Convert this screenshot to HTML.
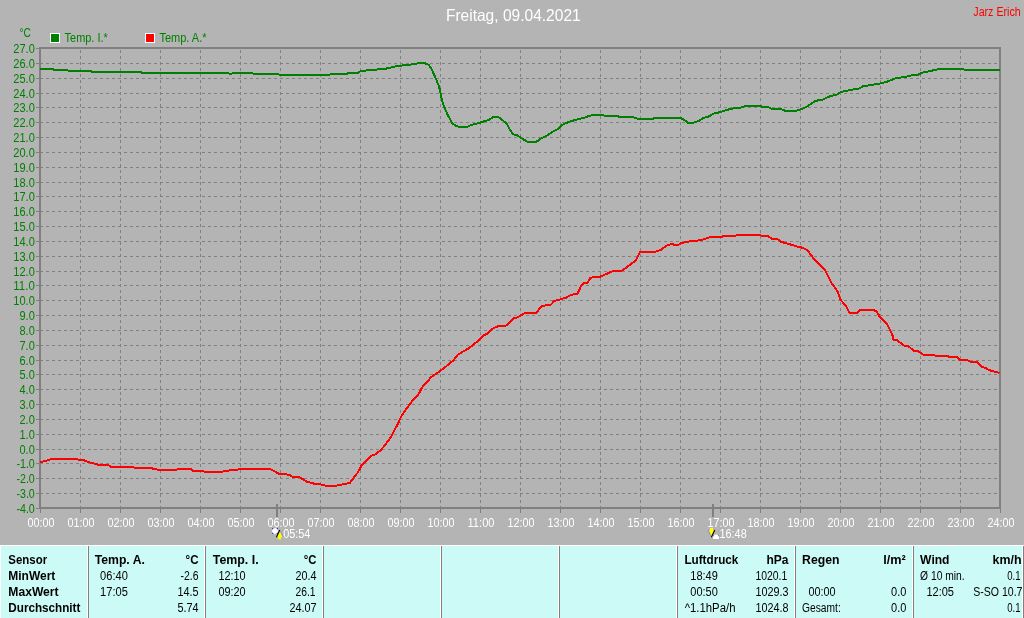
<!DOCTYPE html>
<html lang="de"><head><meta charset="utf-8"><title>Freitag, 09.04.2021</title>
<style>html,body{margin:0;padding:0;background:#b4b4b4;overflow:hidden}svg{display:block}text{font-family:"Liberation Sans",sans-serif;font-size:12px}.b{font-weight:bold}</style>
</head><body>
<svg width="1024" height="618" viewBox="0 0 1024 618">
<rect x="0" y="0" width="1024" height="618" fill="#b4b4b4"/>
<g stroke="#808080" stroke-width="1" shape-rendering="crispEdges" fill="none">
<line x1="40" x2="999" y1="493.5" y2="493.5" stroke-dasharray="3 3"/>
<line x1="40" x2="999" y1="478.5" y2="478.5" stroke-dasharray="3 3"/>
<line x1="40" x2="999" y1="463.5" y2="463.5" stroke-dasharray="3 3"/>
<line x1="40" x2="999" y1="449.5" y2="449.5" stroke-dasharray="3 3"/>
<line x1="40" x2="999" y1="434.5" y2="434.5" stroke-dasharray="3 3"/>
<line x1="40" x2="999" y1="419.5" y2="419.5" stroke-dasharray="3 3"/>
<line x1="40" x2="999" y1="404.5" y2="404.5" stroke-dasharray="3 3"/>
<line x1="40" x2="999" y1="389.5" y2="389.5" stroke-dasharray="3 3"/>
<line x1="40" x2="999" y1="374.5" y2="374.5" stroke-dasharray="3 3"/>
<line x1="40" x2="999" y1="360.5" y2="360.5" stroke-dasharray="3 3"/>
<line x1="40" x2="999" y1="345.5" y2="345.5" stroke-dasharray="3 3"/>
<line x1="40" x2="999" y1="330.5" y2="330.5" stroke-dasharray="3 3"/>
<line x1="40" x2="999" y1="315.5" y2="315.5" stroke-dasharray="3 3"/>
<line x1="40" x2="999" y1="300.5" y2="300.5" stroke-dasharray="3 3"/>
<line x1="40" x2="999" y1="285.5" y2="285.5" stroke-dasharray="3 3"/>
<line x1="40" x2="999" y1="271.5" y2="271.5" stroke-dasharray="3 3"/>
<line x1="40" x2="999" y1="256.5" y2="256.5" stroke-dasharray="3 3"/>
<line x1="40" x2="999" y1="241.5" y2="241.5" stroke-dasharray="3 3"/>
<line x1="40" x2="999" y1="226.5" y2="226.5" stroke-dasharray="3 3"/>
<line x1="40" x2="999" y1="211.5" y2="211.5" stroke-dasharray="3 3"/>
<line x1="40" x2="999" y1="196.5" y2="196.5" stroke-dasharray="3 3"/>
<line x1="40" x2="999" y1="182.5" y2="182.5" stroke-dasharray="3 3"/>
<line x1="40" x2="999" y1="167.5" y2="167.5" stroke-dasharray="3 3"/>
<line x1="40" x2="999" y1="152.5" y2="152.5" stroke-dasharray="3 3"/>
<line x1="40" x2="999" y1="137.5" y2="137.5" stroke-dasharray="3 3"/>
<line x1="40" x2="999" y1="122.5" y2="122.5" stroke-dasharray="3 3"/>
<line x1="40" x2="999" y1="107.5" y2="107.5" stroke-dasharray="3 3"/>
<line x1="40" x2="999" y1="93.5" y2="93.5" stroke-dasharray="3 3"/>
<line x1="40" x2="999" y1="78.5" y2="78.5" stroke-dasharray="3 3"/>
<line x1="40" x2="999" y1="63.5" y2="63.5" stroke-dasharray="3 3"/>
<line x1="80.5" x2="80.5" y1="50" y2="507" stroke-dasharray="3 3"/>
<line x1="120.5" x2="120.5" y1="50" y2="507" stroke-dasharray="3 3"/>
<line x1="160.5" x2="160.5" y1="50" y2="507" stroke-dasharray="3 3"/>
<line x1="200.5" x2="200.5" y1="50" y2="507" stroke-dasharray="3 3"/>
<line x1="240.5" x2="240.5" y1="50" y2="507" stroke-dasharray="3 3"/>
<line x1="280.5" x2="280.5" y1="50" y2="507" stroke-dasharray="3 3"/>
<line x1="320.5" x2="320.5" y1="50" y2="507" stroke-dasharray="3 3"/>
<line x1="360.5" x2="360.5" y1="50" y2="507" stroke-dasharray="3 3"/>
<line x1="400.5" x2="400.5" y1="50" y2="507" stroke-dasharray="3 3"/>
<line x1="440.5" x2="440.5" y1="50" y2="507" stroke-dasharray="3 3"/>
<line x1="480.5" x2="480.5" y1="50" y2="507" stroke-dasharray="3 3"/>
<line x1="520.5" x2="520.5" y1="50" y2="507" stroke-dasharray="3 3"/>
<line x1="560.5" x2="560.5" y1="50" y2="507" stroke-dasharray="3 3"/>
<line x1="600.5" x2="600.5" y1="50" y2="507" stroke-dasharray="3 3"/>
<line x1="640.5" x2="640.5" y1="50" y2="507" stroke-dasharray="3 3"/>
<line x1="680.5" x2="680.5" y1="50" y2="507" stroke-dasharray="3 3"/>
<line x1="720.5" x2="720.5" y1="50" y2="507" stroke-dasharray="3 3"/>
<line x1="760.5" x2="760.5" y1="50" y2="507" stroke-dasharray="3 3"/>
<line x1="800.5" x2="800.5" y1="50" y2="507" stroke-dasharray="3 3"/>
<line x1="840.5" x2="840.5" y1="50" y2="507" stroke-dasharray="3 3"/>
<line x1="880.5" x2="880.5" y1="50" y2="507" stroke-dasharray="3 3"/>
<line x1="920.5" x2="920.5" y1="50" y2="507" stroke-dasharray="3 3"/>
<line x1="960.5" x2="960.5" y1="50" y2="507" stroke-dasharray="3 3"/>
<line x1="36" x2="39" y1="508.5" y2="508.5"/>
<line x1="36" x2="39" y1="493.5" y2="493.5"/>
<line x1="36" x2="39" y1="478.5" y2="478.5"/>
<line x1="36" x2="39" y1="463.5" y2="463.5"/>
<line x1="36" x2="39" y1="449.5" y2="449.5"/>
<line x1="36" x2="39" y1="434.5" y2="434.5"/>
<line x1="36" x2="39" y1="419.5" y2="419.5"/>
<line x1="36" x2="39" y1="404.5" y2="404.5"/>
<line x1="36" x2="39" y1="389.5" y2="389.5"/>
<line x1="36" x2="39" y1="374.5" y2="374.5"/>
<line x1="36" x2="39" y1="360.5" y2="360.5"/>
<line x1="36" x2="39" y1="345.5" y2="345.5"/>
<line x1="36" x2="39" y1="330.5" y2="330.5"/>
<line x1="36" x2="39" y1="315.5" y2="315.5"/>
<line x1="36" x2="39" y1="300.5" y2="300.5"/>
<line x1="36" x2="39" y1="285.5" y2="285.5"/>
<line x1="36" x2="39" y1="271.5" y2="271.5"/>
<line x1="36" x2="39" y1="256.5" y2="256.5"/>
<line x1="36" x2="39" y1="241.5" y2="241.5"/>
<line x1="36" x2="39" y1="226.5" y2="226.5"/>
<line x1="36" x2="39" y1="211.5" y2="211.5"/>
<line x1="36" x2="39" y1="196.5" y2="196.5"/>
<line x1="36" x2="39" y1="182.5" y2="182.5"/>
<line x1="36" x2="39" y1="167.5" y2="167.5"/>
<line x1="36" x2="39" y1="152.5" y2="152.5"/>
<line x1="36" x2="39" y1="137.5" y2="137.5"/>
<line x1="36" x2="39" y1="122.5" y2="122.5"/>
<line x1="36" x2="39" y1="107.5" y2="107.5"/>
<line x1="36" x2="39" y1="93.5" y2="93.5"/>
<line x1="36" x2="39" y1="78.5" y2="78.5"/>
<line x1="36" x2="39" y1="63.5" y2="63.5"/>
<line x1="36" x2="39" y1="48.5" y2="48.5"/>
<line x1="40.5" x2="40.5" y1="509" y2="513"/>
<line x1="80.5" x2="80.5" y1="509" y2="513"/>
<line x1="120.5" x2="120.5" y1="509" y2="513"/>
<line x1="160.5" x2="160.5" y1="509" y2="513"/>
<line x1="200.5" x2="200.5" y1="509" y2="513"/>
<line x1="240.5" x2="240.5" y1="509" y2="513"/>
<line x1="280.5" x2="280.5" y1="509" y2="513"/>
<line x1="320.5" x2="320.5" y1="509" y2="513"/>
<line x1="360.5" x2="360.5" y1="509" y2="513"/>
<line x1="400.5" x2="400.5" y1="509" y2="513"/>
<line x1="440.5" x2="440.5" y1="509" y2="513"/>
<line x1="480.5" x2="480.5" y1="509" y2="513"/>
<line x1="520.5" x2="520.5" y1="509" y2="513"/>
<line x1="560.5" x2="560.5" y1="509" y2="513"/>
<line x1="600.5" x2="600.5" y1="509" y2="513"/>
<line x1="640.5" x2="640.5" y1="509" y2="513"/>
<line x1="680.5" x2="680.5" y1="509" y2="513"/>
<line x1="720.5" x2="720.5" y1="509" y2="513"/>
<line x1="760.5" x2="760.5" y1="509" y2="513"/>
<line x1="800.5" x2="800.5" y1="509" y2="513"/>
<line x1="840.5" x2="840.5" y1="509" y2="513"/>
<line x1="880.5" x2="880.5" y1="509" y2="513"/>
<line x1="920.5" x2="920.5" y1="509" y2="513"/>
<line x1="960.5" x2="960.5" y1="509" y2="513"/>
<line x1="1000.5" x2="1000.5" y1="509" y2="513"/>
</g>
<rect x="40" y="48" width="960" height="460" fill="none" stroke="#808080" stroke-width="2" shape-rendering="crispEdges"/>
<rect x="276" y="504" width="2" height="13" fill="#808080"/>
<rect x="712" y="504" width="2" height="13" fill="#808080"/>
<polyline fill="none" stroke="#008000" stroke-width="2" stroke-linejoin="round" shape-rendering="crispEdges" points="40.0,69.2 52.5,69.2 55.0,70.0 67.5,70.5 90.0,71.0 92.5,71.8 140.0,72.0 142.5,72.8 225.0,72.8 229.0,73.5 232.0,73.5 235.0,72.8 250.0,72.8 252.5,73.5 277.5,74.0 280.0,75.0 328.8,75.0 331.8,74.0 346.4,73.8 349.3,73.0 358.1,72.7 361.0,70.9 373.8,69.9 387.4,68.4 393.3,66.8 401.0,65.6 412.8,64.3 418.7,63.1 424.5,63.1 428.4,64.6 431.4,68.6 436.2,79.3 439.2,87.1 442.1,100.8 444.0,106.6 448.0,115.4 451.9,122.7 454.8,125.2 458.7,126.8 467.5,126.8 471.4,124.9 479.8,122.7 488.6,119.9 493.4,117.0 498.3,117.0 502.2,119.9 507.1,124.2 510.0,130.1 513.4,134.4 516.9,135.0 520.8,137.9 527.6,141.8 536.4,141.8 541.3,138.3 548.1,135.0 552.0,132.0 557.9,129.1 561.8,125.2 567.7,122.3 575.5,119.9 584.3,117.8 589.1,115.8 595.0,114.8 601.8,114.8 604.8,115.8 616.5,115.8 619.4,116.8 632.1,116.8 638.0,118.8 652.6,118.8 655.5,117.8 679.5,117.8 683.4,119.3 688.3,122.9 693.2,122.9 699.0,120.7 704.0,117.8 708.8,116.4 713.7,113.5 720.5,112.1 726.4,110.0 732.3,108.6 741.0,107.6 745.0,106.0 759.6,106.0 762.5,106.8 767.4,106.8 771.3,108.6 780.1,108.6 785.0,110.7 796.7,110.7 802.6,108.6 808.4,105.7 814.3,101.6 819.2,100.0 823.1,99.6 828.0,96.9 836.7,94.6 841.6,91.7 847.5,90.6 859.2,88.4 863.0,86.3 880.6,83.4 887.5,81.6 894.3,78.7 906.0,76.7 911.9,75.2 917.8,74.8 923.6,72.2 930.4,71.2 935.3,69.7 941.2,68.9 962.7,68.9 964.6,69.9 999.5,69.9"/>
<polyline fill="none" stroke="#ff0000" stroke-width="2" stroke-linejoin="round" shape-rendering="crispEdges" points="40.0,462.0 43.5,461.4 47.0,460.5 51.5,459.0 76.9,459.0 78.8,459.8 82.7,459.8 88.6,462.1 97.4,464.5 107.1,464.5 111.0,466.8 132.5,466.8 135.5,468.0 150.1,468.0 157.9,469.7 176.5,469.7 179.4,468.8 190.2,468.8 193.1,470.7 201.9,470.7 204.8,471.7 222.4,471.7 225.3,470.7 233.7,470.3 241.5,468.8 269.8,468.8 274.7,471.3 278.6,473.6 289.3,474.8 292.3,476.6 300.1,477.5 306.9,481.6 313.8,483.6 319.6,484.0 324.5,485.5 337.2,485.5 345.0,484.0 349.9,483.0 354.8,476.2 357.7,472.7 361.6,465.4 366.5,460.2 371.4,455.7 375.3,454.3 381.1,449.8 386.0,443.9 390.9,437.1 393.8,431.2 397.7,424.4 401.6,415.6 406.5,408.8 413.4,399.4 418.3,394.5 422.2,387.3 431.0,377.3 442.7,369.1 453.5,360.3 457.4,355.0 468.1,348.6 475.9,342.7 483.8,335.3 487.7,333.4 492.5,328.7 498.4,326.1 506.2,325.5 514.0,318.3 517.9,317.3 524.8,313.0 536.5,313.0 541.4,306.0 551.1,304.6 554.1,301.1 565.8,297.8 570.7,295.0 577.6,293.6 580.5,287.1 583.4,283.2 587.3,282.7 590.3,278.0 594.2,277.0 600.0,276.8 612.7,271.1 622.5,270.5 631.3,263.7 635.2,261.2 637.1,257.9 640.1,252.0 655.7,251.6 660.6,250.0 667.4,245.2 672.3,243.8 674.3,245.2 678.2,244.8 682.1,242.8 692.8,240.9 700.6,240.3 710.4,237.0 722.1,236.6 726.0,235.8 739.7,235.4 742.6,234.8 759.5,234.8 761.5,235.8 767.3,235.8 772.2,238.9 777.1,238.9 781.0,241.8 790.8,244.6 797.6,246.7 802.5,247.7 807.4,250.4 813.2,257.9 824.0,268.6 826.9,273.5 830.8,281.9 837.7,291.6 840.6,299.8 846.4,306.7 849.4,312.7 857.2,312.7 860.1,310.0 873.3,310.0 876.7,311.7 879.6,316.4 887.0,323.8 892.4,334.9 893.3,339.8 897.2,340.4 904.1,345.7 909.0,346.6 913.8,350.9 918.7,351.5 922.6,354.5 933.4,354.8 935.3,355.8 947.0,355.8 949.0,356.8 956.8,356.8 959.7,359.7 966.6,359.7 970.5,361.7 976.3,361.7 982.2,367.1 986.1,368.1 989.0,370.1 999.5,373.0"/>
<text x="445.9" y="20.5" textLength="134.8" lengthAdjust="spacingAndGlyphs" fill="#ffffff" style="font-size:16.5px">Freitag, 09.04.2021</text>
<text x="973.3" y="16" textLength="47.4" lengthAdjust="spacingAndGlyphs" fill="#ff0000">Jarz Erich</text>
<rect x="50.5" y="33.5" width="9" height="9" fill="#008000" stroke="#fff" stroke-width="1"/>
<text x="64.6" y="42" textLength="43.2" lengthAdjust="spacingAndGlyphs" fill="#008000">Temp. I.*</text>
<rect x="145.5" y="33.5" width="9" height="9" fill="#ff0000" stroke="#fff" stroke-width="1"/>
<text x="159.5" y="42" textLength="47.0" lengthAdjust="spacingAndGlyphs" fill="#008000">Temp. A.*</text>
<text x="19.5" y="37" textLength="11.4" lengthAdjust="spacingAndGlyphs" fill="#008000">°C</text>
<text x="16.4" y="513.0" textLength="18.4" lengthAdjust="spacingAndGlyphs" fill="#008000">-4.0</text>
<text x="16.4" y="498.0" textLength="18.4" lengthAdjust="spacingAndGlyphs" fill="#008000">-3.0</text>
<text x="16.4" y="483.0" textLength="18.4" lengthAdjust="spacingAndGlyphs" fill="#008000">-2.0</text>
<text x="16.4" y="468.0" textLength="18.4" lengthAdjust="spacingAndGlyphs" fill="#008000">-1.0</text>
<text x="19.5" y="454.0" textLength="15.3" lengthAdjust="spacingAndGlyphs" fill="#008000">0.0</text>
<text x="19.5" y="439.0" textLength="15.3" lengthAdjust="spacingAndGlyphs" fill="#008000">1.0</text>
<text x="19.5" y="424.0" textLength="15.3" lengthAdjust="spacingAndGlyphs" fill="#008000">2.0</text>
<text x="19.5" y="409.0" textLength="15.3" lengthAdjust="spacingAndGlyphs" fill="#008000">3.0</text>
<text x="19.5" y="394.0" textLength="15.3" lengthAdjust="spacingAndGlyphs" fill="#008000">4.0</text>
<text x="19.5" y="379.0" textLength="15.3" lengthAdjust="spacingAndGlyphs" fill="#008000">5.0</text>
<text x="19.5" y="365.0" textLength="15.3" lengthAdjust="spacingAndGlyphs" fill="#008000">6.0</text>
<text x="19.5" y="350.0" textLength="15.3" lengthAdjust="spacingAndGlyphs" fill="#008000">7.0</text>
<text x="19.5" y="335.0" textLength="15.3" lengthAdjust="spacingAndGlyphs" fill="#008000">8.0</text>
<text x="19.5" y="320.0" textLength="15.3" lengthAdjust="spacingAndGlyphs" fill="#008000">9.0</text>
<text x="13.3" y="305.0" textLength="21.5" lengthAdjust="spacingAndGlyphs" fill="#008000">10.0</text>
<text x="13.3" y="290.0" textLength="21.5" lengthAdjust="spacingAndGlyphs" fill="#008000">11.0</text>
<text x="13.3" y="276.0" textLength="21.5" lengthAdjust="spacingAndGlyphs" fill="#008000">12.0</text>
<text x="13.3" y="261.0" textLength="21.5" lengthAdjust="spacingAndGlyphs" fill="#008000">13.0</text>
<text x="13.3" y="246.0" textLength="21.5" lengthAdjust="spacingAndGlyphs" fill="#008000">14.0</text>
<text x="13.3" y="231.0" textLength="21.5" lengthAdjust="spacingAndGlyphs" fill="#008000">15.0</text>
<text x="13.3" y="216.0" textLength="21.5" lengthAdjust="spacingAndGlyphs" fill="#008000">16.0</text>
<text x="13.3" y="201.0" textLength="21.5" lengthAdjust="spacingAndGlyphs" fill="#008000">17.0</text>
<text x="13.3" y="187.0" textLength="21.5" lengthAdjust="spacingAndGlyphs" fill="#008000">18.0</text>
<text x="13.3" y="172.0" textLength="21.5" lengthAdjust="spacingAndGlyphs" fill="#008000">19.0</text>
<text x="13.3" y="157.0" textLength="21.5" lengthAdjust="spacingAndGlyphs" fill="#008000">20.0</text>
<text x="13.3" y="142.0" textLength="21.5" lengthAdjust="spacingAndGlyphs" fill="#008000">21.0</text>
<text x="13.3" y="127.0" textLength="21.5" lengthAdjust="spacingAndGlyphs" fill="#008000">22.0</text>
<text x="13.3" y="112.0" textLength="21.5" lengthAdjust="spacingAndGlyphs" fill="#008000">23.0</text>
<text x="13.3" y="98.0" textLength="21.5" lengthAdjust="spacingAndGlyphs" fill="#008000">24.0</text>
<text x="13.3" y="83.0" textLength="21.5" lengthAdjust="spacingAndGlyphs" fill="#008000">25.0</text>
<text x="13.3" y="68.0" textLength="21.5" lengthAdjust="spacingAndGlyphs" fill="#008000">26.0</text>
<text x="13.3" y="53.0" textLength="21.5" lengthAdjust="spacingAndGlyphs" fill="#008000">27.0</text>
<text x="27.5" y="527" textLength="27.0" lengthAdjust="spacingAndGlyphs" fill="#ffffff">00:00</text>
<text x="67.5" y="527" textLength="27.0" lengthAdjust="spacingAndGlyphs" fill="#ffffff">01:00</text>
<text x="107.5" y="527" textLength="27.0" lengthAdjust="spacingAndGlyphs" fill="#ffffff">02:00</text>
<text x="147.5" y="527" textLength="27.0" lengthAdjust="spacingAndGlyphs" fill="#ffffff">03:00</text>
<text x="187.5" y="527" textLength="27.0" lengthAdjust="spacingAndGlyphs" fill="#ffffff">04:00</text>
<text x="227.5" y="527" textLength="27.0" lengthAdjust="spacingAndGlyphs" fill="#ffffff">05:00</text>
<text x="267.5" y="527" textLength="27.0" lengthAdjust="spacingAndGlyphs" fill="#ffffff">06:00</text>
<text x="307.5" y="527" textLength="27.0" lengthAdjust="spacingAndGlyphs" fill="#ffffff">07:00</text>
<text x="347.5" y="527" textLength="27.0" lengthAdjust="spacingAndGlyphs" fill="#ffffff">08:00</text>
<text x="387.5" y="527" textLength="27.0" lengthAdjust="spacingAndGlyphs" fill="#ffffff">09:00</text>
<text x="427.5" y="527" textLength="27.0" lengthAdjust="spacingAndGlyphs" fill="#ffffff">10:00</text>
<text x="467.5" y="527" textLength="27.0" lengthAdjust="spacingAndGlyphs" fill="#ffffff">11:00</text>
<text x="507.5" y="527" textLength="27.0" lengthAdjust="spacingAndGlyphs" fill="#ffffff">12:00</text>
<text x="547.5" y="527" textLength="27.0" lengthAdjust="spacingAndGlyphs" fill="#ffffff">13:00</text>
<text x="587.5" y="527" textLength="27.0" lengthAdjust="spacingAndGlyphs" fill="#ffffff">14:00</text>
<text x="627.5" y="527" textLength="27.0" lengthAdjust="spacingAndGlyphs" fill="#ffffff">15:00</text>
<text x="667.5" y="527" textLength="27.0" lengthAdjust="spacingAndGlyphs" fill="#ffffff">16:00</text>
<text x="707.5" y="527" textLength="27.0" lengthAdjust="spacingAndGlyphs" fill="#ffffff">17:00</text>
<text x="747.5" y="527" textLength="27.0" lengthAdjust="spacingAndGlyphs" fill="#ffffff">18:00</text>
<text x="787.5" y="527" textLength="27.0" lengthAdjust="spacingAndGlyphs" fill="#ffffff">19:00</text>
<text x="827.5" y="527" textLength="27.0" lengthAdjust="spacingAndGlyphs" fill="#ffffff">20:00</text>
<text x="867.5" y="527" textLength="27.0" lengthAdjust="spacingAndGlyphs" fill="#ffffff">21:00</text>
<text x="907.5" y="527" textLength="27.0" lengthAdjust="spacingAndGlyphs" fill="#ffffff">22:00</text>
<text x="947.5" y="527" textLength="27.0" lengthAdjust="spacingAndGlyphs" fill="#ffffff">23:00</text>
<text x="987.5" y="527" textLength="27.0" lengthAdjust="spacingAndGlyphs" fill="#ffffff">24:00</text>
<text x="283.2" y="538" textLength="27.2" lengthAdjust="spacingAndGlyphs" fill="#ffffff">05:54</text>
<text x="719.5" y="538" textLength="27.2" lengthAdjust="spacingAndGlyphs" fill="#ffffff">16:48</text>
<g shape-rendering="crispEdges"><rect x="272" y="528" width="6" height="6" fill="#2828b8"/></g>
<circle cx="275" cy="531" r="3" fill="#ffffff"/>
<path d="M279.5 530.3 L282.6 537 L281 537 L281 539.2 L278 539.2 L278 537 L276.4 537 Z" fill="#ffff00"/>
<path d="M279.8 530 L276.4 537.2" stroke="#000000" stroke-width="1.1" fill="none"/>
<path d="M280.6 531.5 L283 536.8" stroke="#7080e0" stroke-width="0.8" fill="none"/>
<path d="M710 528 L713 528 L713 530.2 L714.6 530.2 L711.5 537 L708.4 530.2 L710 530.2 Z" fill="#ffff00"/>
<path d="M714.8 530 L711.3 537.3" stroke="#000000" stroke-width="1.1" fill="none"/>
<path d="M708.2 530 L710.6 535.5" stroke="#7080e0" stroke-width="0.8" fill="none"/>
<g shape-rendering="crispEdges"><rect x="713" y="535" width="6" height="2" fill="#2828b8"/></g>
<path d="M713 539 L713 537.5 A3 3 0 0 1 719 537.5 L719 539 Z" fill="#ffffff"/>
<rect x="0" y="545" width="1024" height="73" fill="#ffffff"/>
<rect x="1" y="546" width="1023" height="72" fill="#ccfaf6"/>
<rect x="87" y="546" width="1" height="72" fill="#ffffff"/><rect x="88" y="546" width="1" height="72" fill="#808080"/>
<rect x="204" y="546" width="1" height="72" fill="#ffffff"/><rect x="205" y="546" width="1" height="72" fill="#808080"/>
<rect x="322" y="546" width="1" height="72" fill="#ffffff"/><rect x="323" y="546" width="1" height="72" fill="#808080"/>
<rect x="440" y="546" width="1" height="72" fill="#ffffff"/><rect x="441" y="546" width="1" height="72" fill="#808080"/>
<rect x="558" y="546" width="1" height="72" fill="#ffffff"/><rect x="559" y="546" width="1" height="72" fill="#808080"/>
<rect x="676" y="546" width="1" height="72" fill="#ffffff"/><rect x="677" y="546" width="1" height="72" fill="#808080"/>
<rect x="794" y="546" width="1" height="72" fill="#ffffff"/><rect x="795" y="546" width="1" height="72" fill="#808080"/>
<rect x="912" y="546" width="1" height="72" fill="#ffffff"/><rect x="913" y="546" width="1" height="72" fill="#808080"/>
<rect x="1022" y="546" width="1" height="72" fill="#ffffff"/><rect x="1023" y="546" width="1" height="72" fill="#808080"/>
<text x="8.3" y="564" textLength="38.8" lengthAdjust="spacingAndGlyphs" fill="#000000" class="b">Sensor</text>
<text x="8.3" y="580" textLength="47.0" lengthAdjust="spacingAndGlyphs" fill="#000000" class="b">MinWert</text>
<text x="8.3" y="596" textLength="50.3" lengthAdjust="spacingAndGlyphs" fill="#000000" class="b">MaxWert</text>
<text x="8.3" y="612" textLength="72.1" lengthAdjust="spacingAndGlyphs" fill="#000000" class="b">Durchschnitt</text>
<text x="94.7" y="564" textLength="50.2" lengthAdjust="spacingAndGlyphs" fill="#000000" class="b">Temp. A.</text>
<text x="185.5" y="564" textLength="13.0" lengthAdjust="spacingAndGlyphs" fill="#000000" class="b">°C</text>
<text x="100.1" y="580" textLength="27.7" lengthAdjust="spacingAndGlyphs" fill="#000000">06:40</text>
<text x="180.5" y="580" textLength="18.0" lengthAdjust="spacingAndGlyphs" fill="#000000">-2.6</text>
<text x="100.1" y="596" textLength="27.7" lengthAdjust="spacingAndGlyphs" fill="#000000">17:05</text>
<text x="177.4" y="596" textLength="21.1" lengthAdjust="spacingAndGlyphs" fill="#000000">14.5</text>
<text x="177.4" y="612" textLength="21.1" lengthAdjust="spacingAndGlyphs" fill="#000000">5.74</text>
<text x="212.8" y="564" textLength="45.8" lengthAdjust="spacingAndGlyphs" fill="#000000" class="b">Temp. I.</text>
<text x="303.7" y="564" textLength="12.7" lengthAdjust="spacingAndGlyphs" fill="#000000" class="b">°C</text>
<text x="218.4" y="580" textLength="27.2" lengthAdjust="spacingAndGlyphs" fill="#000000">12:10</text>
<text x="295.5" y="580" textLength="21.0" lengthAdjust="spacingAndGlyphs" fill="#000000">20.4</text>
<text x="218.4" y="596" textLength="27.2" lengthAdjust="spacingAndGlyphs" fill="#000000">09:20</text>
<text x="295.5" y="596" textLength="20.0" lengthAdjust="spacingAndGlyphs" fill="#000000">26.1</text>
<text x="289.4" y="612" textLength="27.1" lengthAdjust="spacingAndGlyphs" fill="#000000">24.07</text>
<text x="684.4" y="564" textLength="54.0" lengthAdjust="spacingAndGlyphs" fill="#000000" class="b">Luftdruck</text>
<text x="766.5" y="564" textLength="22.0" lengthAdjust="spacingAndGlyphs" fill="#000000" class="b">hPa</text>
<text x="690.3" y="580" textLength="27.5" lengthAdjust="spacingAndGlyphs" fill="#000000">18:49</text>
<text x="755.4" y="580" textLength="31.9" lengthAdjust="spacingAndGlyphs" fill="#000000">1020.1</text>
<text x="690.3" y="596" textLength="27.5" lengthAdjust="spacingAndGlyphs" fill="#000000">00:50</text>
<text x="755.4" y="596" textLength="33.1" lengthAdjust="spacingAndGlyphs" fill="#000000">1029.3</text>
<text x="684.7" y="612" textLength="50.8" lengthAdjust="spacingAndGlyphs" fill="#000000">^1.1hPa/h</text>
<text x="755.4" y="612" textLength="33.1" lengthAdjust="spacingAndGlyphs" fill="#000000">1024.8</text>
<text x="802.1" y="564" textLength="37.4" lengthAdjust="spacingAndGlyphs" fill="#000000" class="b">Regen</text>
<text x="883.2" y="564" textLength="22.5" lengthAdjust="spacingAndGlyphs" fill="#000000" class="b">l/m²</text>
<text x="808.4" y="596" textLength="27.2" lengthAdjust="spacingAndGlyphs" fill="#000000">00:00</text>
<text x="891.1" y="596" textLength="15.3" lengthAdjust="spacingAndGlyphs" fill="#000000">0.0</text>
<text x="802.1" y="612" textLength="38.7" lengthAdjust="spacingAndGlyphs" fill="#000000">Gesamt:</text>
<text x="891.1" y="612" textLength="15.3" lengthAdjust="spacingAndGlyphs" fill="#000000">0.0</text>
<text x="920.1" y="564" textLength="29.4" lengthAdjust="spacingAndGlyphs" fill="#000000" class="b">Wind</text>
<text x="992.5" y="564" textLength="29.0" lengthAdjust="spacingAndGlyphs" fill="#000000" class="b">km/h</text>
<text x="920.1" y="580" textLength="44.6" lengthAdjust="spacingAndGlyphs" fill="#000000">Ø 10 min.</text>
<text x="1007.2" y="580" textLength="13.3" lengthAdjust="spacingAndGlyphs" fill="#000000">0.1</text>
<text x="926.4" y="596" textLength="27.6" lengthAdjust="spacingAndGlyphs" fill="#000000">12:05</text>
<text x="973.2" y="596" textLength="49.3" lengthAdjust="spacingAndGlyphs" fill="#000000">S-SO 10.7</text>
<text x="1007.2" y="612" textLength="13.3" lengthAdjust="spacingAndGlyphs" fill="#000000">0.1</text>
</svg></body></html>
